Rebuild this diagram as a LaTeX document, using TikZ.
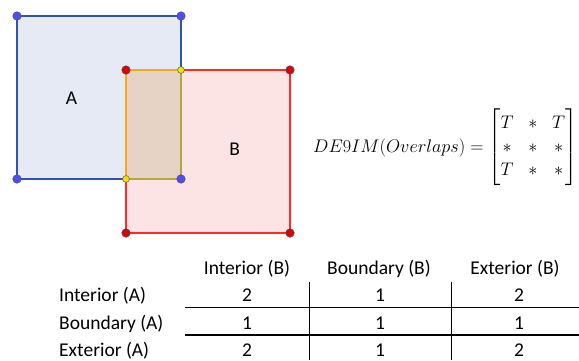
\documentclass[tikz,border=0pt]{standalone}
\usepackage{amsmath}
\usepackage{graphicx}
\usepackage{fontspec}
\setmainfont{Carlito}
\definecolor{afill}{HTML}{E5EAF5}
\definecolor{aline}{HTML}{2E55AE}
\definecolor{bfill}{HTML}{FDE4E4}
\definecolor{bline}{HTML}{FF2A2A}
\definecolor{ifill}{HTML}{E6D3C6}
\definecolor{orng}{HTML}{FFA31A}
\definecolor{olive}{HTML}{B5A545}
\definecolor{ptb}{HTML}{4D4DFF}
\definecolor{ptr}{HTML}{E00000}
\definecolor{pty}{HTML}{FFDD00}
\begin{document}
\begin{tikzpicture}[x=1pt,y=-1pt,
  pt/.style={circle,inner sep=0pt,minimum size=8.5pt,draw=black!70,line width=0.5pt},
  ptbl/.style={pt,fill=ptb},
  ptrd/.style={pt,fill=ptr},
  ptyl/.style={pt,fill=pty,minimum size=6.8pt},
  edge/.style={line width=1.8pt},
  lbl/.style={font=\fontsize{19.5}{22}\selectfont,inner sep=0pt},
  tline/.style={line width=1.5pt,black}]
\useasboundingbox (0,0) rectangle (579,360);
% corners
\coordinate (a1) at (17,16); \coordinate (a2) at (181,16);
\coordinate (a3) at (181,179); \coordinate (a4) at (17,179);
\coordinate (b1) at (126,70); \coordinate (b2) at (290,70);
\coordinate (b3) at (290,233); \coordinate (b4) at (126,233);
\coordinate (i1) at (181,70); \coordinate (i2) at (126,179);
% fills
\fill[afill] (a1) rectangle (a3);
\fill[bfill] (b1) rectangle (b3);
\fill[ifill] (b1) rectangle (a3);
% A edges
\draw[edge,aline] (i1) -- (a2) -- (a1) -- (a4) -- (i2);
% B edges
\draw[edge,bline] (i1) -- (b2) -- (b3) -- (b4) -- (i2);
% intersection edges
\draw[edge,orng] (i1) -- (b1) -- (i2);
\draw[edge,olive] (i1) -- (a3) -- (i2);
% points
\node[ptbl] (pa1) at (a1) {}; \node[ptbl] (pa2) at (a2) {};
\node[ptbl] (pa3) at (a3) {}; \node[ptbl] (pa4) at (a4) {};
\node[ptrd] (pb1) at (b1) {}; \node[ptrd] (pb2) at (b2) {};
\node[ptrd] (pb3) at (b3) {}; \node[ptrd] (pb4) at (b4) {};
\node[ptyl] (pi1) at (i1) {}; \node[ptyl] (pi2) at (i2) {};
% labels
\node[lbl,anchor=base] (la) at (71.5,104) {A};
\node[lbl,anchor=base] (lb) at (234.7,155) {B};
% formula
\node[anchor=base west,inner sep=0pt,font=\fontsize{17.28}{22.5}\selectfont] (form) at (313,152)
 {\scalebox{1.055}{$\setlength{\arraycolsep}{7pt}DE9IM(Overlaps)=\begin{bmatrix}T & * & T\\ * & * & *\\ T & * & *\end{bmatrix}$}};
% table header
\node[lbl,anchor=base] (h1) at (247,274.5) {Interior (B)};
\node[lbl,anchor=base] (h2) at (379,274.5) {Boundary (B)};
\node[lbl,anchor=base] (h3) at (515,274.5) {Exterior (B)};
\node[lbl,anchor=base west] (r1) at (59,301.5) {Interior (A)};
\node[lbl,anchor=base west] (r2) at (59,329) {Boundary (A)};
\node[lbl,anchor=base west] (r3) at (59,356) {Exterior (A)};
\node[lbl,anchor=base] (v11) at (247,301.5) {2};
\node[lbl,anchor=base] (v12) at (380,301.5) {1};
\node[lbl,anchor=base] (v13) at (519,301.5) {2};
\node[lbl,anchor=base] (v21) at (247,329) {1};
\node[lbl,anchor=base] (v22) at (380,329) {1};
\node[lbl,anchor=base] (v23) at (519,329) {1};
\node[lbl,anchor=base] (v31) at (247,356) {2};
\node[lbl,anchor=base] (v32) at (380,356) {1};
\node[lbl,anchor=base] (v33) at (519,356) {2};
% table lines
\coordinate (hl1a) at (185,307.3); \coordinate (hl1b) at (579,307.3);
\coordinate (hl2a) at (185,335); \coordinate (hl2b) at (579,335);
\coordinate (vl1a) at (309.3,281.7); \coordinate (vl1b) at (309.3,360);
\coordinate (vl2a) at (451.7,281.7); \coordinate (vl2b) at (451.7,360);
\draw[tline] (hl1a) -- (hl1b);
\draw[tline] (hl2a) -- (hl2b);
\draw[tline] (vl1a) -- (vl1b);
\draw[tline] (vl2a) -- (vl2b);
\end{tikzpicture}
\end{document}
